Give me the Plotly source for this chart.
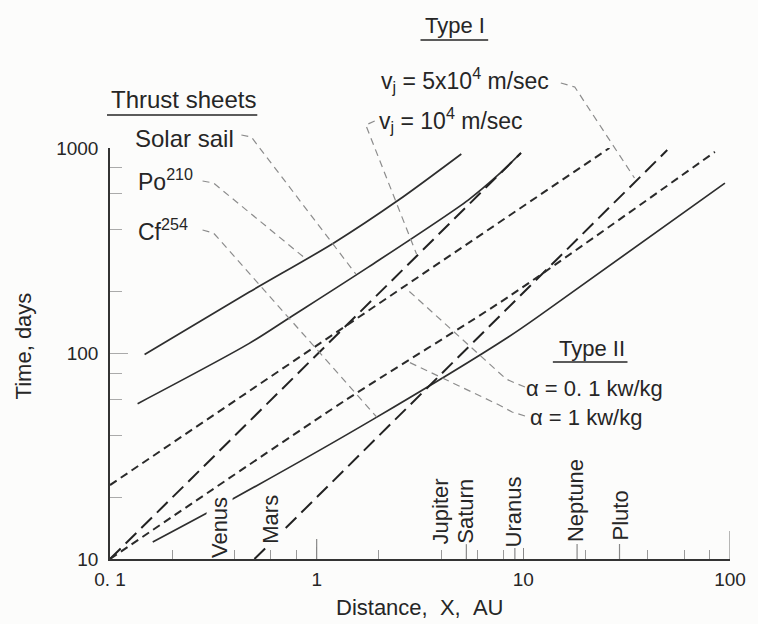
import numpy as np
import plotly.graph_objects as go

# ---------------- data (X in AU, time in days) ----------------
# Thrust sheets (solid)
po210_x = [0.147, 0.472, 1.21, 2.49, 5.01]
po210_t = [99, 199, 345, 558, 935]
solar_x = [0.136, 0.472, 0.752, 1.785, 5.41, 7.55, 9.74]
solar_t = [57, 112, 151, 264, 558, 739, 946]
cf254_x = [0.161, 0.40, 1.846, 8.43, 13.1, 94.5]
cf254_t = [12.1, 19.8, 47.4, 120, 163, 675]
# Type I (long dash)
vj1e4_x = [0.1, 9.74]
vj1e4_t = [10, 946]
vj5e4_x = [0.5, 49.7]
vj5e4_t = [10, 977]
# Type II (short dash)
a01_x = [0.1, 26.1]
a01_t = [22.9, 1000]
a1_x = [0.1, 1.384, 8.43, 84.5]
a1_t = [10, 59.4, 188, 957]

# axes ticks
x_major = [0.1, 1, 10, 100]
x_major_text = ["0. 1", "1", "10", "100"]
x_minor = [0.2, 0.4, 0.6, 0.8, 2, 4, 6, 8, 20, 40, 60, 80]
planet_ticks = [5.3, 9.1, 18.2, 29.2]
y_major = [10, 100, 1000]
y_major_text = ["10", "100", "1000"]
y_minor = [20, 40, 60, 80, 200, 400, 600, 800]

# planet labels (distance, AU)
planet_names = ["Venus", "Mars", "Jupiter", "Saturn", "Uranus", "Neptune", "Pluto"]
planet_x = [0.339, 0.596, 3.97, 5.23, 9.01, 17.9, 29.2]

# ---------------- layout helpers (pixels -> paper) ----------------
W_FIG, H_FIG = 758, 624
L, T, W, H = 110, 148, 623, 411
BG = "#fcfcfb"


def px(x):
    return (x - L) / W


def py(y):
    return (T + H - y) / H


FONT = "Liberation Sans, Arial, sans-serif"
INK = "#262626"

fig = go.Figure()

solid = dict(color="#2e2e2e", width=1.7, shape="spline", smoothing=0.8)
for xs, ts in [(po210_x, po210_t), (solar_x, solar_t), (cf254_x, cf254_t)]:
    fig.add_trace(go.Scatter(x=xs, y=ts, mode="lines", line=solid,
                             showlegend=False, hoverinfo="skip"))

for xs, ts in [(vj1e4_x, vj1e4_t), (vj5e4_x, vj5e4_t)]:
    fig.add_trace(go.Scatter(x=xs, y=ts, mode="lines",
                             line=dict(color="#222", width=2, dash="15px,7px"),
                             showlegend=False, hoverinfo="skip"))

for xs, ts in [(a01_x, a01_t), (a1_x, a1_t)]:
    fig.add_trace(go.Scatter(x=xs, y=ts, mode="lines",
                             line=dict(color="#2a2a2a", width=2, dash="8px,5px",
                                       shape="spline", smoothing=0.6),
                             showlegend=False, hoverinfo="skip"))

shapes = []
# leaders (pixel polylines)
leaders = [
    [(242, 135), (252, 137), (357, 274)],          # Solar sail
    [(203, 181), (214, 183), (307, 259)],          # Po210
    [(203, 230), (214, 233), (378, 417)],          # Cf254
    [(563, 83), (577, 87), (637, 178)],            # vj 5e4
    [(376, 121), (367, 125), (418, 254)],          # vj 1e4
    [(527, 387), (517, 383), (508, 379), (407, 288)],  # a 0.1
    [(527, 416), (514, 412), (501, 405), (408, 361)],  # a 1
]
for pts in leaders:
    path = "M " + " L ".join(f"{px(a):.5f},{py(b):.5f}" for a, b in pts)
    shapes.append(dict(type="path", path=path, xref="paper", yref="paper",
                       line=dict(color="#8c8c8c", width=1.2, dash="7px,5px")))

# underlines
for x0, x1, y in [(107, 258, 115), (422, 490, 40), (555, 630, 362)]:
    shapes.append(dict(type="line", xref="paper", yref="paper",
                       x0=px(x0), x1=px(x1), y0=py(y), y1=py(y),
                       line=dict(color=INK, width=1.6)))

# planet ticks (taller) and the tall end tick at 100
for v, ln in [(p, 15) for p in planet_ticks] + [(100, 28), (1, 20)]:
    shapes.append(dict(type="line", xref="x", yref="paper",
                       x0=v, x1=v, y0=0, y1=ln / H,
                       line=dict(color="#888", width=1.2)))

annotations = []


def txt(s, x, y, size=22, xanchor="left", yanchor="middle", angle=0):
    annotations.append(dict(text=s, x=px(x), y=py(y), xref="paper", yref="paper",
                            xanchor=xanchor, yanchor=yanchor, showarrow=False,
                            textangle=angle, font=dict(family=FONT, size=size, color=INK)))


txt("Thrust sheets", 109, 100, size=24)
txt("Solar sail", 133, 138, size=24)
txt("Po<sup>210</sup>", 136, 180, size=23)
txt("Cf<sup>254</sup>", 136, 230, size=23)
txt("Type I", 457, 25, size=22, xanchor="center")
txt("v<sub>j</sub> = 5x10<sup>4</sup> m/sec", 380, 80, size=23)
txt("v<sub>j</sub> = 10<sup>4</sup> m/sec", 378, 120, size=23)
txt("Type II", 594, 348, size=22, xanchor="center")
txt("\u03b1 = 0. 1 kw/kg", 526, 388, size=22)
txt("\u03b1 = 1 kw/kg", 530, 417, size=22)

bottoms = [559, 545, 545, 545, 548, 543, 542]
for name, xv, b in zip(planet_names, planet_x, bottoms):
    annotations.append(dict(text=name, x=np.log10(xv), y=py(b), xref="x", yref="paper",
                            xanchor="center", yanchor="bottom", textangle=-90,
                            showarrow=False, bgcolor=BG, borderpad=0,
                            font=dict(family=FONT, size=22, color=INK)))

txt("Time,\u00a0days", 23, 346, size=22, xanchor="center", angle=-90)
txt("Distance,\u00a0\u00a0X,\u00a0\u00a0AU", 421, 607, size=22, xanchor="center")

fig.update_layout(
    width=W_FIG, height=H_FIG, autosize=False,
    margin=dict(l=L, r=W_FIG - L - W, t=T, b=H_FIG - T - H, pad=0),
    paper_bgcolor=BG, plot_bgcolor=BG,
    showlegend=False, shapes=shapes, annotations=annotations,
    xaxis=dict(type="log", range=[-1, 2], showline=True, linecolor="#333", linewidth=1.5,
               showgrid=False, zeroline=False, tickmode="array", tickvals=x_major,
               ticktext=x_major_text, ticks="inside", ticklen=12, tickwidth=1.2,
               tickcolor="#888", ticklabelstandoff=2,
               tickfont=dict(family=FONT, size=19, color=INK),
               minor=dict(tickmode="array", tickvals=x_minor, ticks="inside",
                          ticklen=9, tickwidth=1.1, tickcolor="#999", showgrid=False)),
    yaxis=dict(type="log", range=[1, 3], showline=True, linecolor="#333", linewidth=1.5,
               showgrid=False, zeroline=False, tickmode="array", tickvals=y_major,
               ticktext=y_major_text, ticks="inside", ticklen=18, tickwidth=1.2,
               tickcolor="#aaa", ticklabelstandoff=6,
               tickfont=dict(family=FONT, size=19, color=INK),
               minor=dict(tickmode="array", tickvals=y_minor, ticks="inside",
                          ticklen=12, tickwidth=1.1, tickcolor="#aaa", showgrid=False)),
)

fig.write_html("out.html", config={"displayModeBar": False},
               post_script="document.body.style.margin='0px';")
